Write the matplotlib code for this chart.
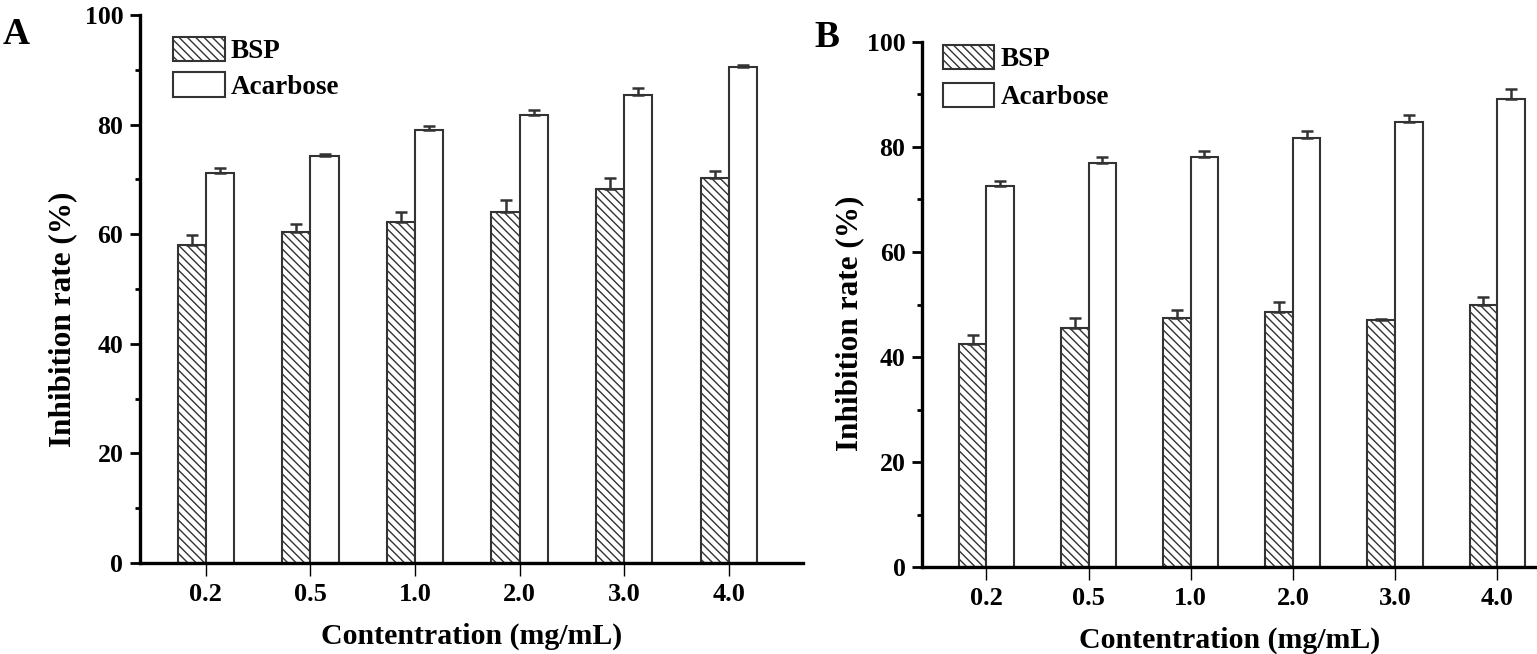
import numpy as np
import matplotlib
matplotlib.use("Agg")
import matplotlib.pyplot as plt
from matplotlib.ticker import MultipleLocator

# === DATEN ===
concentrations = ["0.2", "0.5", "1.0", "2.0", "3.0", "4.0"]

bsp_a = [58.0, 60.4, 62.3, 64.1, 68.2, 70.3]
bsp_a_err = [1.8, 1.4, 1.7, 2.2, 2.0, 1.2]
acarbose_a = [71.2, 74.2, 79.0, 81.7, 85.5, 90.6]
acarbose_a_err = [0.8, 0.4, 0.8, 0.9, 1.2, 0.2]

bsp_b = [42.4, 45.6, 47.5, 48.5, 47.0, 50.0]
bsp_b_err = [1.8, 1.8, 1.5, 2.0, 0.2, 1.4]
acarbose_b = [72.6, 77.0, 78.0, 81.8, 84.8, 89.2]
acarbose_b_err = [0.9, 1.0, 1.3, 1.3, 1.2, 1.9]

plt.rcParams["font.family"] = ["Liberation Serif", "DejaVu Serif"]
plt.rcParams["font.weight"] = "bold"
plt.rcParams["hatch.linewidth"] = 1.0

EDGE = "#333333"
W = 0.27


def draw_panel(ax, bsp, bsp_err, aca, aca_err, xlim, legend_pos, lab_x, lab_y, spacing):
    x = np.arange(len(concentrations))
    zeros = np.zeros(len(x))
    ax.bar(x - W / 2, bsp, W, facecolor="white", edgecolor=EDGE, hatch="\\\\\\\\",
           linewidth=1.5, label="BSP", zorder=2)
    ax.bar(x + W / 2, aca, W, facecolor="white", edgecolor=EDGE,
           linewidth=1.5, label="Acarbose", zorder=2)
    ax.errorbar(x - W / 2, bsp, yerr=[zeros, bsp_err], fmt="none", ecolor=EDGE,
                elinewidth=1.8, capsize=4.3, capthick=1.8, zorder=3)
    ax.errorbar(x + W / 2, aca, yerr=[zeros, aca_err], fmt="none", ecolor=EDGE,
                elinewidth=1.8, capsize=4.3, capthick=1.8, zorder=3)

    ax.set_xlim(*xlim)
    ax.set_ylim(0, 100)
    ax.set_xticks(x)
    ax.set_xticklabels(concentrations, fontsize=19, fontweight="bold")
    ax.yaxis.set_major_locator(MultipleLocator(20))
    ax.yaxis.set_minor_locator(MultipleLocator(10))
    for lbl in ax.get_yticklabels():
        lbl.set_fontsize(18.5)
        lbl.set_fontweight("bold")

    for s in ["top", "right"]:
        ax.spines[s].set_visible(False)
    ax.spines["left"].set_linewidth(2.4)
    ax.spines["bottom"].set_linewidth(2.4)
    ax.tick_params(axis="y", which="major", length=7, width=2, direction="out", pad=5)
    ax.tick_params(axis="y", which="minor", length=3.5, width=2, direction="out")
    ax.tick_params(axis="x", which="major", length=9.5, width=1, direction="out", pad=5)

    ax.set_xlabel("Contentration (mg/mL)", fontsize=21.5, fontweight="bold", labelpad=12)
    ax.set_ylabel("Inhibition rate (%)", fontsize=22.5, fontweight="bold")
    ax.yaxis.set_label_coords(lab_x, lab_y)

    ax.legend(loc="upper left", bbox_to_anchor=legend_pos, frameon=False,
              prop={"size": 19.5, "weight": "bold"}, handlelength=1.9,
              handleheight=1.0, handletextpad=0.22, labelspacing=spacing,
              borderaxespad=0, borderpad=0)


fig = plt.figure(figsize=(15.37, 6.54), dpi=100)
ax_a = fig.add_axes([0.0911, 0.1391, 0.4314, 0.8379])
ax_b = fig.add_axes([0.5999, 0.1330, 0.4001, 0.8028])

draw_panel(ax_a, bsp_a, bsp_a_err, acarbose_a, acarbose_a_err,
           (-0.63, 5.71), (0.05, 0.96), -0.095, 0.445, 0.3)
draw_panel(ax_b, bsp_b, bsp_b_err, acarbose_b, acarbose_b_err,
           (-0.63, 5.39), (0.034, 0.995), -0.094, 0.465, 0.4)

fig.text(0.002, 0.948, "A", fontsize=27, fontweight="bold", va="center", ha="left")
fig.text(0.530, 0.942, "B", fontsize=27, fontweight="bold", va="center", ha="left")

fig.savefig("out.png", dpi=100)
